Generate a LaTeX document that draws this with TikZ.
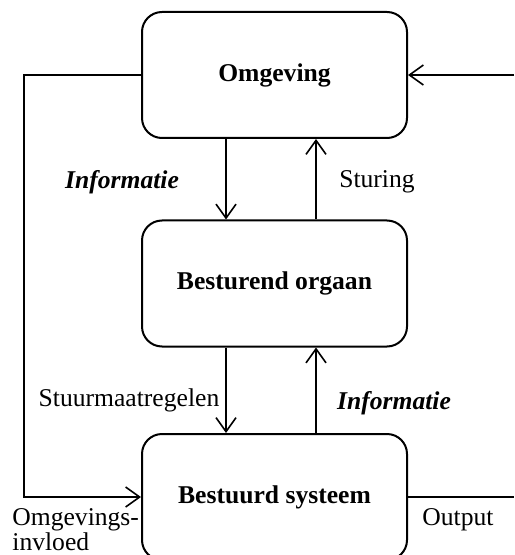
\documentclass[tikz,border=0pt]{standalone}
\usepackage{fontspec}
\setmainfont{Liberation Serif}
\usetikzlibrary{arrows.meta}
\begin{document}
\begin{tikzpicture}[x=0.5pt,y=-0.5pt,
  font=\fontsize{12.8}{14}\selectfont,
  box/.style={draw, line width=1pt, rounded corners=10pt,
    minimum width=132.5pt, minimum height=63pt, font=\fontsize{12.8}{14}\selectfont\bfseries},
  link/.style={line width=0.8pt, -{Straight Barb[length=7pt,width=10pt,line width=0.8pt]}},
  plain/.style={line width=0.9pt},
  lbl/.style={inner sep=0pt},
  emph/.style={lbl, font=\fontsize{12.8}{14}\selectfont\bfseries\itshape}]
  \useasboundingbox (0,0) rectangle (514,555);
  \clip (0,0) rectangle (514,555);

  % the three blocks
  \node[box] (omg) at (274.5,75) {Omgeving};
  \node[box] (org) at (274.5,283.5) {Besturend orgaan};
  \node[box] (sys) at (274.5,497) {Bestuurd systeem};

  % free ends at the picture's edge
  \coordinate (inR) at (514,75);
  \coordinate (outR) at (514,497);
  \coordinate (bendL) at (24,75);

  % information and control between the blocks
  \draw[link] ([xshift=-24.25pt]omg.south) -- ([xshift=-24.25pt]org.north);
  \draw[link] ([xshift=20.75pt]org.north) -- ([xshift=20.75pt]omg.south);
  \draw[link] ([xshift=-24.25pt]org.south) -- ([xshift=-24.25pt]sys.north);
  \draw[link] ([xshift=20.75pt]sys.north) -- ([xshift=20.75pt]org.south);

  % environment influence, input and output
  \draw[link] (omg.west) -- (bendL) |- (sys.west);
  \draw[link] (inR) -- (omg.east);
  \draw[plain] (sys.east) -- (outR);

  % labels
  \node[emph] (i1) at (122,182) {Informatie};
  \node[lbl] (st) at (377,182) {Sturing};
  \node[lbl] (sm) at (129,400) {Stuurmaatregelen};
  \node[emph] (i2) at (394,403) {Informatie};
  \node[lbl, anchor=west] (om) at (12,520) {Omgevings-};
  \node[lbl, anchor=west] (iv) at (12,542) {invloed};
  \node[lbl] (ou) at (458,520) {Output};
\end{tikzpicture}
\end{document}
